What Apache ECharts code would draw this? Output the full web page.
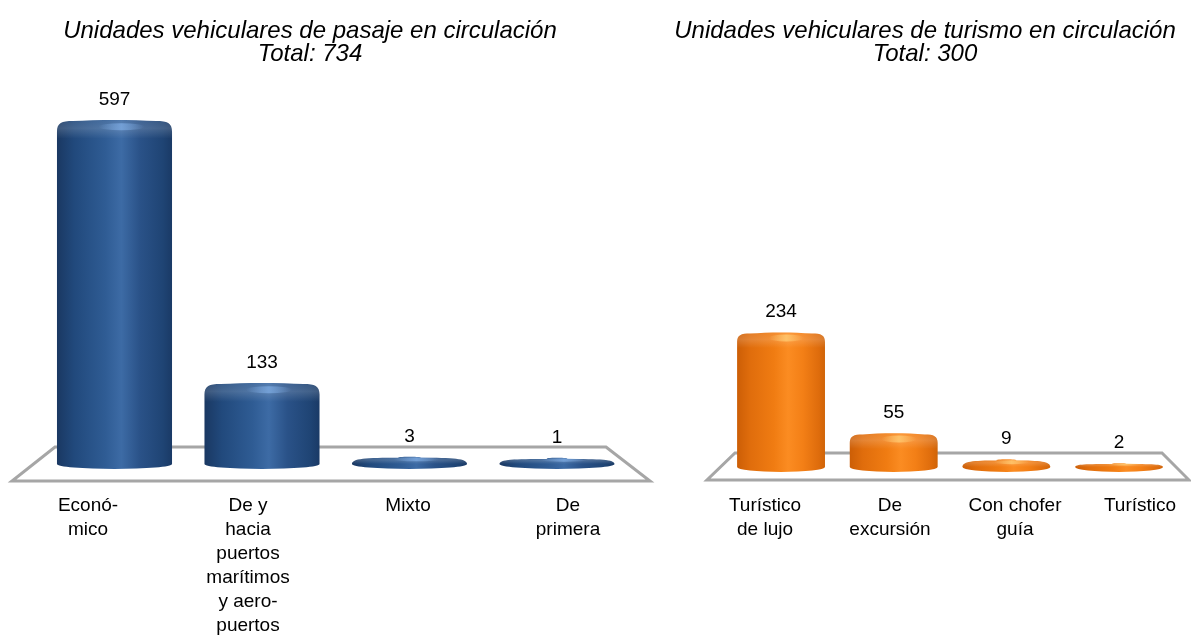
<!DOCTYPE html>
<html>
<head>
<meta charset="utf-8">
<title>Unidades vehiculares en circulación</title>
<script src="https://cdn.jsdelivr.net/npm/echarts@6/dist/echarts.min.js"></script>
<style>
  html, body { margin: 0; padding: 0; background: #fff; }
  #chart { width: 1191px; height: 637px; }
</style>
</head>
<body>
<div id="chart"></div>
<script>
// Passenger units by service type
const passTitle = 'Unidades vehiculares de pasaje en circulación\nTotal: 734';
const passCategories = ['Econó-\nmico', 'De y\nhacia\npuertos\nmarítimos\ny aero-\npuertos', 'Mixto', 'De\nprimera'];
const passValues = [597, 133, 3, 1];

// Tourism units by service type
const tourTitle = 'Unidades vehiculares de turismo en circulación\nTotal: 300';
const tourCategories = ['Turístico\nde lujo', 'De\nexcursión', 'Con chofer\nguía', 'Turístico'];
const tourValues = [234, 55, 9, 2];

const FONT = '"Liberation Sans", Arial, sans-serif';

const blueStops = [
  { offset: 0, color: '#1a3862' },
  { offset: 0.15, color: '#21497c' },
  { offset: 0.42, color: '#2f5c94' },
  { offset: 0.56, color: '#3d6ba5' },
  { offset: 0.72, color: '#2a5288' },
  { offset: 0.92, color: '#1f4474' },
  { offset: 1, color: '#1a3a66' }
];
const orangeStops = [
  { offset: 0, color: '#cc5e06' },
  { offset: 0.15, color: '#e06d0c' },
  { offset: 0.42, color: '#f07c12' },
  { offset: 0.58, color: '#fb8c22' },
  { offset: 0.75, color: '#f37f16' },
  { offset: 0.93, color: '#de6c0c' },
  { offset: 1, color: '#d06408' }
];

// Rounded-top cylinder drawn from the axis scale of each grid
function cylinderSeries(axisIndex, values, cfg) {
  return {
    type: 'custom',
    xAxisIndex: axisIndex,
    yAxisIndex: axisIndex,
    data: values.map((v, i) => [i, v]),
    encode: { x: 0, y: 1 },
    z: 5,
    renderItem: function (params, api) {
      const i = api.value(0);
      const v = api.value(1);
      const base = api.coord([i, 0]);
      const topPt = api.coord([i, v]);
      const band = api.size([1, 0])[0];
      const w = band * cfg.ratio;
      const cx = base[0];
      const L = cx - w / 2;
      const R = cx + w / 2;
      const top = topPt[1];
      const ry = cfg.ry;
      const sideEnd = base[1] + cfg.drop - ry;
      const hSide = Math.max(sideEnd - top, 1);
      const ky = Math.min(cfg.ky, hSide);
      // flat discs turn into a full ellipse outline
      const t = Math.max(0, Math.min(1, 1 - hSide / (3 * cfg.ky)));
      const kx = cfg.kx + (w * 0.48 - cfg.kx) * t;
      const b = Math.min(1.5, hSide / 4);

      const body =
        'M' + L + ',' + sideEnd +
        ' L' + L + ',' + (top + ky) +
        ' C' + L + ',' + (top + ky * 0.3) + ' ' + (L + kx * 0.3) + ',' + (top + b) + ' ' + (L + kx) + ',' + (top + b) +
        ' C' + (cx - w * 0.15) + ',' + top + ' ' + (cx + w * 0.15) + ',' + top + ' ' + (R - kx) + ',' + (top + b) +
        ' C' + (R - kx * 0.3) + ',' + (top + b) + ' ' + R + ',' + (top + ky * 0.3) + ' ' + R + ',' + (top + ky) +
        ' L' + R + ',' + sideEnd +
        ' A' + (w / 2) + ',' + ry + ' 0 0 1 ' + L + ',' + sideEnd + ' Z';

      // lighter rim along the rounded top
      const capH = Math.min(ky * 1.6, hSide);
      const cap =
        'M' + L + ',' + (top + capH) +
        ' L' + L + ',' + (top + ky) +
        ' C' + L + ',' + (top + ky * 0.3) + ' ' + (L + kx * 0.3) + ',' + (top + b) + ' ' + (L + kx) + ',' + (top + b) +
        ' C' + (cx - w * 0.15) + ',' + top + ' ' + (cx + w * 0.15) + ',' + top + ' ' + (R - kx) + ',' + (top + b) +
        ' C' + (R - kx * 0.3) + ',' + (top + b) + ' ' + R + ',' + (top + ky * 0.3) + ' ' + R + ',' + (top + ky) +
        ' L' + R + ',' + (top + capH) + ' Z';

      // glossy spot near the top
      const hx = cx + w * 0.06;
      const hy = top + Math.min(cfg.ky * 0.6, hSide * 0.4);
      const hrx = w * 0.2;
      const hry = Math.min(3.5, hSide * 0.25);
      const spot =
        'M' + (hx - hrx) + ',' + hy +
        ' A' + hrx + ',' + hry + ' 0 1 0 ' + (hx + hrx) + ',' + hy +
        ' A' + hrx + ',' + hry + ' 0 1 0 ' + (hx - hrx) + ',' + hy + ' Z';

      const children = [
        {
          type: 'path',
          shape: { pathData: body },
          style: { fill: { type: 'linear', x: 0, y: 0, x2: 1, y2: 0, colorStops: cfg.stops } }
        },
        {
          type: 'path',
          shape: { pathData: cap },
          style: {
            fill: {
              type: 'linear', x: 0, y: 0, x2: 0, y2: 1,
              colorStops: [
                { offset: 0, color: 'rgba(255,255,255,0.10)' },
                { offset: 0.45, color: 'rgba(255,255,255,0.16)' },
                { offset: 1, color: 'rgba(255,255,255,0)' }
              ]
            }
          }
        },
        {
          type: 'path',
          shape: { pathData: spot },
          style: {
            fill: {
              type: 'linear', x: 0, y: 0, x2: 1, y2: 0,
              colorStops: [
                { offset: 0, color: cfg.glow + '0)' },
                { offset: 0.5, color: cfg.glow + '0.85)' },
                { offset: 1, color: cfg.glow + '0)' }
              ]
            }
          }
        },
        {
          type: 'text',
          style: {
            text: String(v),
            x: cx,
            y: top - cfg.labelGap,
            align: 'center',
            verticalAlign: 'middle',
            fill: '#000',
            font: '19px ' + FONT
          }
        }
      ];
      return { type: 'group', children: children };
    }
  };
}

const chart = echarts.init(document.getElementById('chart'), null, { renderer: 'canvas' });

const titleStyle = {
  fontFamily: FONT,
  fontStyle: 'italic',
  fontWeight: 'normal',
  fontSize: 24,
  lineHeight: 23,
  color: '#000'
};

const labelAxis = (gridIndex, cats) => ({
  type: 'category',
  gridIndex: gridIndex,
  data: cats,
  axisLine: { show: false },
  axisTick: { show: false },
  splitLine: { show: false },
  axisLabel: {
    interval: 0,
    margin: 4,
    color: '#000',
    fontFamily: FONT,
    fontSize: 19,
    lineHeight: 24,
    verticalAlign: 'top'
  }
});

const hiddenCat = (gridIndex, cats) => ({
  type: 'category', gridIndex: gridIndex, data: cats, show: false
});
const hiddenVal = (gridIndex, max) => ({
  type: 'value', gridIndex: gridIndex, min: 0, max: max, show: false
});

chart.setOption({
  animation: false,
  backgroundColor: '#fff',
  title: [
    { text: passTitle, left: 305, top: 15, textAlign: 'center', textStyle: titleStyle },
    { text: tourTitle, left: 920, top: 15, textAlign: 'center', textStyle: titleStyle }
  ],
  graphic: [
    {
      type: 'polygon', z: 0,
      shape: { points: [[55, 447], [606, 447], [650, 481], [12, 481]] },
      style: { fill: '#fff', stroke: '#a6a6a6', lineWidth: 3 }
    },
    {
      type: 'polygon', z: 0,
      shape: { points: [[735, 453], [1162, 453], [1189, 480], [707, 480]] },
      style: { fill: '#fff', stroke: '#a6a6a6', lineWidth: 3 }
    }
  ],
  grid: [
    { left: 40.75, width: 590, top: 61.1, bottom: 179, outerBoundsMode: 'none' },
    { left: 724.7, width: 450.7, top: 238.4, bottom: 173, outerBoundsMode: 'none' },
    { left: 8, width: 640, top: 480, height: 10, outerBoundsMode: 'none' },
    { left: 702.5, width: 500, top: 480, height: 10, outerBoundsMode: 'none' }
  ],
  xAxis: [
    hiddenCat(0, passCategories),
    hiddenCat(1, tourCategories),
    labelAxis(2, passCategories),
    labelAxis(3, tourCategories)
  ],
  yAxis: [
    hiddenVal(0, 700),
    hiddenVal(1, 400),
    hiddenVal(2, 1),
    hiddenVal(3, 1)
  ],
  series: [
    cylinderSeries(0, passValues, {
      ratio: 0.78, drop: 11, ry: 5, kx: 16, ky: 12, labelGap: 20,
      stops: blueStops, glow: 'rgba(120,165,220,'
    }),
    cylinderSeries(1, tourValues, {
      ratio: 0.78, drop: 8, ry: 5, kx: 13, ky: 10, labelGap: 20,
      stops: orangeStops, glow: 'rgba(255,200,110,'
    }),
    { type: 'scatter', xAxisIndex: 2, yAxisIndex: 2, data: [], silent: true },
    { type: 'scatter', xAxisIndex: 3, yAxisIndex: 3, data: [], silent: true }
  ]
});
</script>
</body>
</html>
